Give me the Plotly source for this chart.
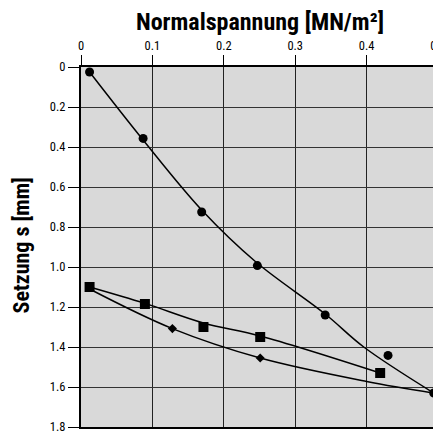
import plotly.graph_objects as go

# Measured points
circ_x = [0.012, 0.087, 0.169, 0.247, 0.342, 0.430, 0.494]
circ_y = [0.025, 0.357, 0.725, 0.993, 1.240, 1.442, 1.630]
sq_x = [0.012, 0.0895, 0.1715, 0.251, 0.419]
sq_y = [1.100, 1.185, 1.300, 1.350, 1.530]
dia_x = [0.128, 0.251]
dia_y = [1.308, 1.455]

# Trend curves
c1_x = [0.012, 0.087, 0.169, 0.245, 0.342, 0.396, 0.494]
c1_y = [0.025, 0.365, 0.715, 0.975, 1.235, 1.400, 1.630]
c2_x = [0.012, 0.0895, 0.1715, 0.251, 0.419]
c2_y = [1.100, 1.182, 1.280, 1.345, 1.530]
c3_x = [0.012, 0.128, 0.251, 0.400, 0.494]
c3_y = [1.110, 1.308, 1.455, 1.572, 1.630]

x_ticks = [0, 0.1, 0.2, 0.3, 0.4, 0.5]
x_labels = ["0", "0.1", "0.2", "0.3", "0.4", "0.5"]
y_ticks = [0, 0.2, 0.4, 0.6, 0.8, 1.0, 1.2, 1.4, 1.6, 1.8]
y_labels = ["0", "0.2", "0.4", "0.6", "0.8", "1.0", "1.2", "1.4", "1.6", "1.8"]

FONT = "Liberation Sans Narrow, Roboto Condensed, DejaVu Sans Condensed, sans-serif"

# page body has an 8px margin, so the figure is 8px smaller than the window
W, H = 433, 424
L, R, T, B = 72.5, 3, 59.3, 5
PW, PH = W - L - R, H - T - B

fig = go.Figure()
for cx, cy in [(c1_x, c1_y), (c2_x, c2_y), (c3_x, c3_y)]:
    fig.add_trace(go.Scatter(x=cx, y=cy, mode="lines",
                             line=dict(color="black", width=1.5, shape="spline", smoothing=1.0),
                             hoverinfo="skip", showlegend=False))
fig.add_trace(go.Scatter(x=circ_x, y=circ_y, mode="markers",
                         marker=dict(symbol="circle", size=9, color="black"), showlegend=False))
fig.add_trace(go.Scatter(x=sq_x, y=sq_y, mode="markers",
                         marker=dict(symbol="square", size=10, color="black"), showlegend=False))
fig.add_trace(go.Scatter(x=dia_x, y=dia_y, mode="markers",
                         marker=dict(symbol="diamond", size=7, color="black"), showlegend=False))

fig.update_layout(
    width=W, height=H,
    margin=dict(l=L, r=R, t=T, b=B, pad=0),
    paper_bgcolor="white", plot_bgcolor="#d9d9d9",
    font=dict(family=FONT, size=12, color="black"),
    title=dict(text="<b>Normalspannung [MN/m²]</b>", x=(260 - 8) / W, xref="container",
               xanchor="center", y=1 - 14 / H, yref="container", yanchor="middle",
               font=dict(family=FONT, size=24, color="black")),
    xaxis=dict(side="top", range=[0, 0.5], tickvals=x_ticks, ticktext=x_labels,
               ticks="outside", ticklen=10, tickwidth=1, tickcolor="black",
               ticklabeloverflow="allow", tickfont=dict(size=12.5),
               showgrid=True, gridcolor="#222", gridwidth=1, automargin=False,
               showline=True, linecolor="black", linewidth=2, mirror=True,
               zeroline=False, fixedrange=True),
    yaxis=dict(range=[1.8, 0], tickvals=y_ticks, ticktext=y_labels,
               ticks="outside", ticklen=11, tickwidth=1, tickcolor="black",
               ticklabeloverflow="allow", tickfont=dict(size=12.5),
               showgrid=True, gridcolor="#333", gridwidth=1, automargin=False,
               showline=True, linecolor="black", linewidth=2, mirror=True,
               zeroline=False, fixedrange=True),
    annotations=[dict(text="<b>Setzung s [mm]</b>", xref="paper", yref="paper",
                      x=-(L - 13) / PW, y=1 - (246 - 8 - T) / PH, textangle=-90,
                      showarrow=False, xanchor="center", yanchor="middle",
                      font=dict(family=FONT, size=22, color="black"))],
)

fig.write_html("out.html")
